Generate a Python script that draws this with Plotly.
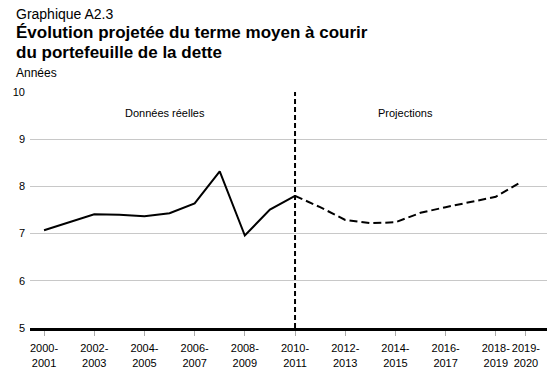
import plotly.graph_objects as go

# ---- data (fiscal years identified by starting year) ----
real_years = [2000, 2001, 2002, 2003, 2004, 2005, 2006, 2007, 2008, 2009, 2010]
real_values = [7.07, 7.24, 7.41, 7.40, 7.37, 7.43, 7.64, 8.32, 6.96, 7.51, 7.80]

proj_years = [2010, 2011, 2012, 2013, 2014, 2015, 2016, 2017, 2018, 2019]
proj_values = [7.80, 7.56, 7.29, 7.22, 7.24, 7.44, 7.56, 7.67, 7.78, 8.09]

tick_years = [2000, 2002, 2004, 2006, 2008, 2010, 2012, 2014, 2016, 2018, 2019]
tick_labels = ["2000-<br>2001", "2002-<br>2003", "2004-<br>2005", "2006-<br>2007",
               "2008-<br>2009", "2010-<br>2011", "2012-<br>2013", "2014-<br>2015",
               "2016-<br>2017", "2018-<br>2019", "2019-<br>2020"]
y_ticks = [5, 6, 7, 8, 9, 10]

split_year = 2010
label_real = "Données réelles"
label_proj = "Projections"
chart_number = "Graphique A2.3"
title_line1 = "Évolution projetée du terme moyen à courir"
title_line2 = "du portefeuille de la dette"
y_unit = "Années"

FONT = "Liberation Sans, Arial, Helvetica, sans-serif"
W, H = 560, 376
L, R, T, B = 30, 13, 92, 48
plot_h = H - T - B
plot_w = W - L - R


def py(px):
    return (H - B - px) / plot_h


def pxx(px):
    return (px - L) / plot_w


# slight offset so the last label does not collide with the previous one
tick_pos = [y if y != 2019 else y + 0.2 for y in tick_years]

fig = go.Figure()
fig.add_trace(go.Scatter(x=real_years, y=real_values, mode="lines",
                         line=dict(color="black", width=2), showlegend=False,
                         hoverinfo="skip"))
fig.add_trace(go.Scatter(x=proj_years, y=proj_values, mode="lines",
                         line=dict(color="black", width=2, dash="8px,4px"),
                         showlegend=False, hoverinfo="skip"))

fig.add_shape(type="line", xref="x", yref="paper", x0=split_year, x1=split_year,
              y0=0, y1=1, line=dict(color="black", width=2, dash="5px,3px"))

annotations = [
    dict(text=chart_number, x=pxx(14), y=py(14), xanchor="left", yanchor="middle",
         font=dict(size=14, color="black", family=FONT)),
    dict(text="<b>" + title_line1 + "</b>", x=pxx(14), y=py(32.5), xanchor="left",
         yanchor="middle", font=dict(size=17, color="black", family=FONT)),
    dict(text="<b>" + title_line2 + "</b>", x=pxx(14), y=py(52.5), xanchor="left",
         yanchor="middle", font=dict(size=17, color="black", family=FONT)),
    dict(text=y_unit, x=pxx(14), y=py(73), xanchor="left", yanchor="middle",
         font=dict(size=12, color="black", family=FONT)),
    dict(text=label_real, x=pxx(165), y=py(113), xanchor="center", yanchor="middle",
         font=dict(size=11, color="black", family=FONT)),
    dict(text=label_proj, x=pxx(405), y=py(113), xanchor="center", yanchor="middle",
         font=dict(size=11, color="black", family=FONT)),
]
for a in annotations:
    a.update(xref="paper", yref="paper", showarrow=False)

fig.update_layout(
    width=W, height=H,
    margin=dict(l=L, r=R, t=T, b=B, pad=0, autoexpand=False),
    paper_bgcolor="white", plot_bgcolor="white",
    font=dict(family=FONT, size=11, color="black"),
    annotations=annotations,
    xaxis=dict(range=[1999.44, 2020.04], tickmode="array", tickvals=tick_pos,
               ticktext=tick_labels, showgrid=False, zeroline=False,
               showline=True, linecolor="black", linewidth=3,
               ticks="outside", ticklen=5, tickcolor="#aaaaaa", tickwidth=1,
               tickangle=0, automargin=False, ticklabelstandoff=3,
               tickfont=dict(size=11, family=FONT, color="black")),
    yaxis=dict(range=[5, 10], tickmode="array", tickvals=y_ticks,
               showgrid=True, gridcolor="#c8c8c8", gridwidth=1, zeroline=False,
               showline=False, ticks="", ticklabelstandoff=4, automargin=False,
               tickfont=dict(size=11, family=FONT, color="black")),
)

fig.write_html("out.html",
               config={"displayModeBar": False, "staticPlot": True},
               post_script="document.body.style.margin='0';document.body.style.padding='0';")
